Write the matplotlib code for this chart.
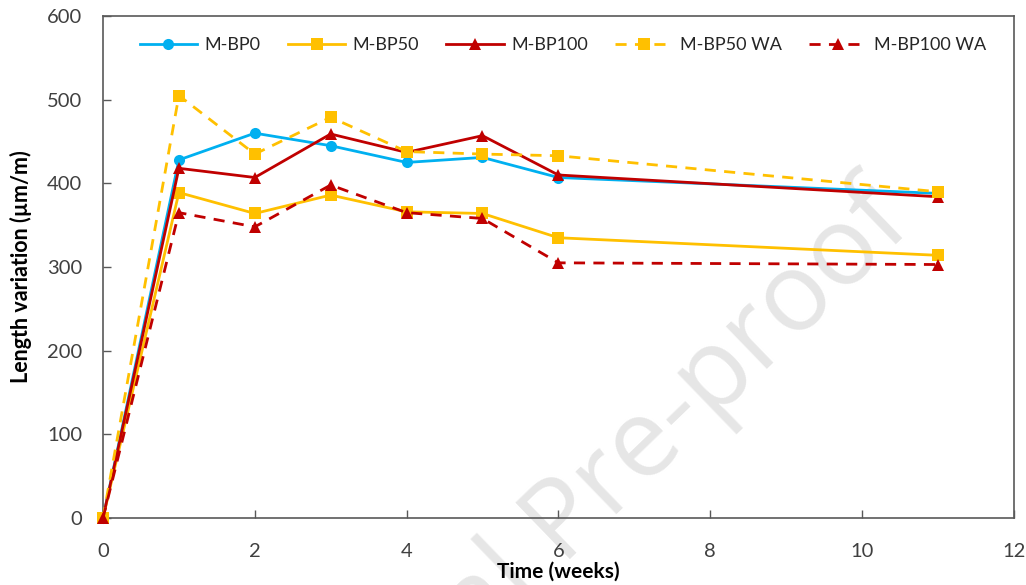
import matplotlib
matplotlib.use("Agg")
import matplotlib.pyplot as plt

# Shrinkage data: length variation (µm/m) versus curing time (weeks)
weeks = [0, 1, 2, 3, 4, 5, 6, 11]
m_bp0 = [0, 428, 460, 445, 425, 431, 407, 388]
m_bp50 = [0, 389, 364, 386, 366, 364, 335, 314]
m_bp100 = [0, 418, 407, 459, 437, 457, 410, 384]
m_bp50_wa = [0, 505, 435, 479, 438, 435, 433, 390]
m_bp100_wa = [0, 365, 348, 398, 365, 358, 305, 303]

series_labels = ["M-BP0", "M-BP50", "M-BP100", "M-BP50 WA", "M-BP100 WA"]
x_ticks = [0, 2, 4, 6, 8, 10, 12]
y_ticks = [0, 100, 200, 300, 400, 500, 600]

BLUE = "#00B0F0"
GOLD = "#FFC000"
RED = "#C00000"

plt.rcParams["font.family"] = ["Lato", "DejaVu Sans"]

fig = plt.figure(figsize=(10.26, 5.85), dpi=100)
ax = fig.add_axes([0.1004, 0.1145, 0.8876, 0.8581])

styles = [
    (m_bp0, BLUE, "-", "o", 8),
    (m_bp50, GOLD, "-", "s", 8),
    (m_bp100, RED, "-", "^", 8.5),
    (m_bp50_wa, GOLD, "--", "s", 8),
    (m_bp100_wa, RED, "--", "^", 8.5),
]
for (vals, color, ls, mk, ms), label in zip(styles, series_labels):
    ax.plot(weeks, vals, color=color, linestyle=ls, linewidth=2.0,
            marker=mk, markersize=ms, markeredgewidth=0, label=label,
            dashes=(4, 3) if ls == "--" else (None, None),
            clip_on=False, zorder=3)

ax.set_xlim(0, 12)
ax.set_ylim(0, 600)
ax.set_xticks(x_ticks)
ax.set_yticks(y_ticks)
ax.tick_params(direction="in", length=6, width=1, colors="#595959",
               labelcolor="#404040", labelsize=14.5)
ax.tick_params(axis="x", pad=18)
ax.tick_params(axis="y", pad=15)
for sp in ax.spines.values():
    sp.set_color("#595959")
    sp.set_linewidth(1.2)

ax.set_xlabel("Time (weeks)", fontsize=15, fontweight="bold", labelpad=1)
ax.set_ylabel("Length variation (µm/m)", fontsize=15.5, fontweight="bold",
              labelpad=11)

leg = ax.legend(loc="center", bbox_to_anchor=(0.505, 0.942), ncol=5,
                frameon=False, fontsize=13, handlelength=3.2,
                handletextpad=0.4, columnspacing=1.5)
for t in leg.get_texts():
    t.set_color("#262626")

# Faint diagonal watermark behind the data
ax.text(918 / 1026, 1 - 232 / 585, "Journal Pre-proof",
        transform=fig.transFigure, rotation=44, rotation_mode="anchor",
        ha="right", va="baseline", fontsize=79, color="#E6E6E6",
        family="Open Sans", clip_on=False, zorder=0.5)

fig.savefig("out.png", dpi=100)
